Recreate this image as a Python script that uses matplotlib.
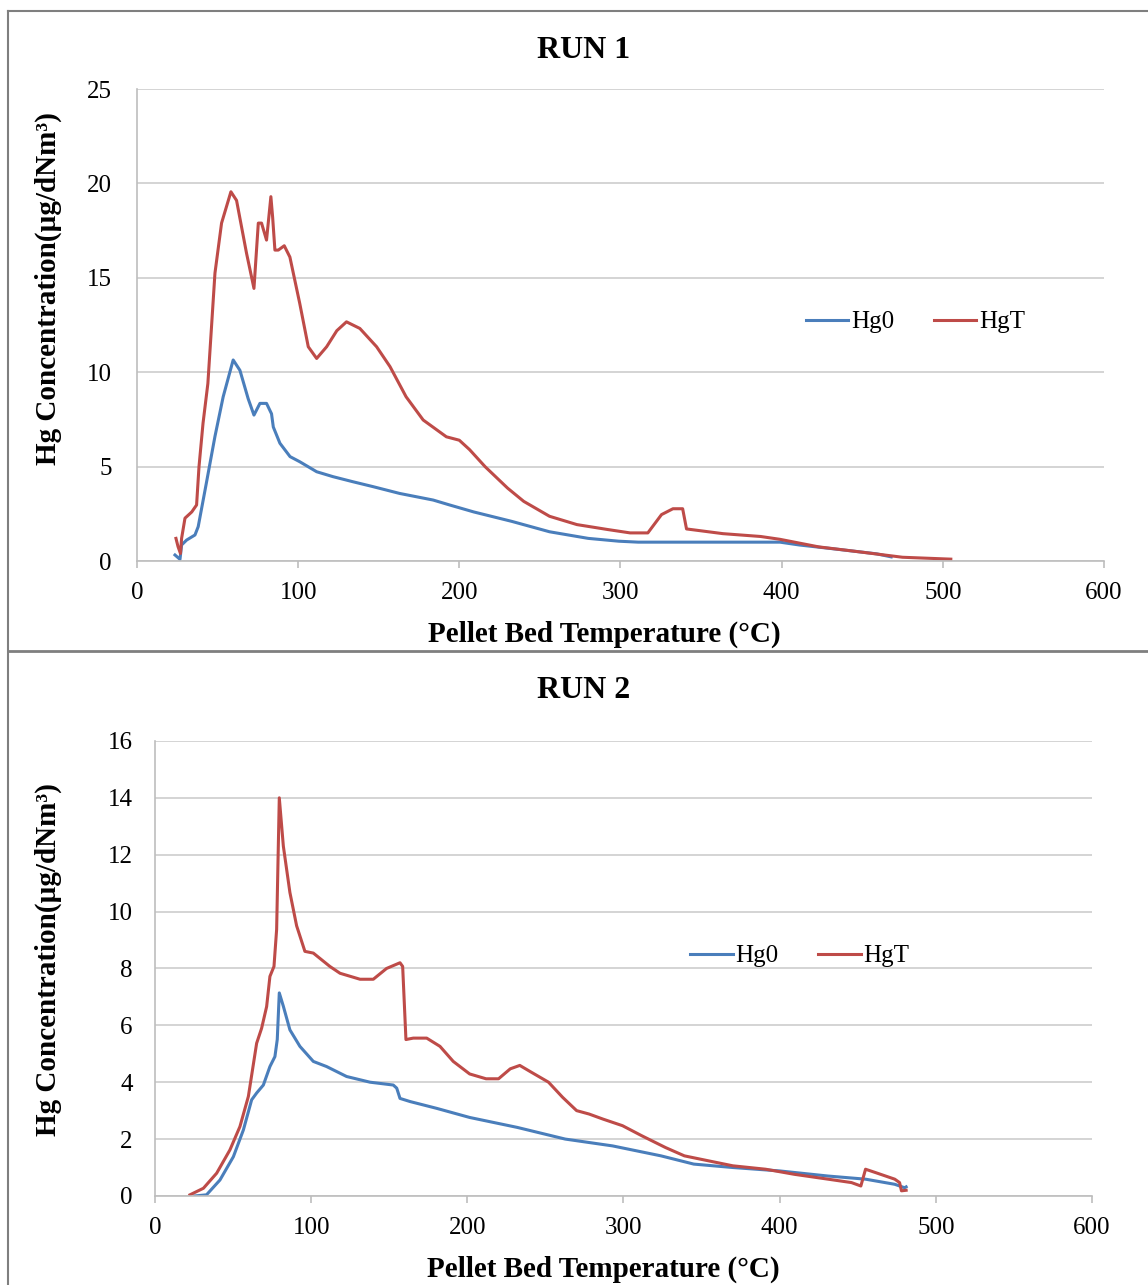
import matplotlib
matplotlib.use("Agg")
import matplotlib.pyplot as plt
from matplotlib.lines import Line2D

plt.rcParams['font.family'] = ['Liberation Serif', 'DejaVu Serif']

# RUN 1 data
run1_hg0_t = [23.6, 26.7, 27.7, 30.8, 36, 38, 43, 48.4, 53.5, 59.7, 63.9, 69, 72.6, 76.3,
              80.4, 83.5, 84.6, 88.7, 95, 101, 111.5, 121.6, 134, 146.5, 163, 183.8, 194,
              209, 232.6, 256, 280, 299, 311, 340, 370, 399, 411, 435, 459, 468]
run1_hg0_c = [0.32, 0.09, 0.85, 1.11, 1.38, 1.82, 4.1, 6.6, 8.7, 10.65, 10.1, 8.6, 7.73, 8.35,
              8.35, 7.8, 7.1, 6.24, 5.53, 5.26, 4.73, 4.47, 4.2, 3.94, 3.58, 3.23, 2.97,
              2.6, 2.1, 1.55, 1.2, 1.05, 1.0, 1.0, 1.0, 1.0, 0.85, 0.62, 0.38, 0.22]

run1_hgt_t = [24.2, 25.5, 27, 27.7, 29.8, 34, 37, 38.5, 41, 44, 48.4, 52.5, 58.3, 61.8, 68,
              72.6, 75.3, 77.3, 80.4, 83.1, 84.2, 85.6, 87.7, 91.4, 94.9, 101, 106.3, 111.5,
              117.7, 124, 130, 138.3, 148.7, 157, 167, 177.6, 192, 200, 206.4, 216, 230, 240, 256,
              273, 292, 306, 317, 325.5, 332.6, 338.6, 341, 363.6, 387, 399, 423, 447, 475, 505]
run1_hgt_c = [1.2, 0.76, 0.4, 1.2, 2.27, 2.6, 2.97, 5.0, 7.3, 9.4, 15.25, 17.9, 19.56, 19.1, 16.3,
              14.44, 17.9, 17.9, 17.0, 19.3, 18.2, 16.47, 16.47, 16.7, 16.1, 13.65, 11.35, 10.73,
              11.35, 12.2, 12.67, 12.32, 11.35, 10.3, 8.7, 7.47, 6.58, 6.4, 5.9, 5.0, 3.86, 3.16, 2.37,
              1.93, 1.67, 1.49, 1.49, 2.46, 2.77, 2.77, 1.7, 1.45, 1.3, 1.15, 0.75, 0.5, 0.2, 0.1]

# RUN 2 data
run2_hg0_t = [25.6, 33, 41.6, 50.2, 56.6, 61.9, 65.1, 69.4, 73.6, 76.8, 78.3, 79.6, 82.2, 86.4,
              92.8, 101.4, 109.9, 122.7, 137.7, 152.6, 154.8, 156.9, 163.3, 180.4, 201.5, 232,
              262.7, 293, 324, 345, 370, 400, 431, 455, 473.7, 480, 481]
run2_hg0_c = [0.0, 0.04, 0.56, 1.38, 2.32, 3.38, 3.62, 3.9, 4.55, 4.9, 5.5, 7.14, 6.67, 5.84,
              5.26, 4.73, 4.55, 4.2, 4.0, 3.9, 3.79, 3.43, 3.32, 3.08, 2.76, 2.41,
              2.0, 1.76, 1.41, 1.12, 1.0, 0.88, 0.7, 0.59, 0.41, 0.29, 0.32]

run2_hgt_t = [22.4, 31, 39.5, 48, 54.4, 59.8, 65.1, 68.3, 71.5, 73.6, 76.2, 77.9, 79.6, 82.2,
              86.4, 90.7, 96, 101.4, 112, 118.5, 131.3, 139.8, 148.3, 156.9, 158.6, 160.7, 165.4,
              174, 182.5, 191, 201.5, 212, 220, 227.5, 233.6, 241, 252, 261, 270, 278, 287,
              299.4, 311.6, 327, 339, 354, 370, 391, 409.5, 431, 446, 452, 455, 461.5, 473.7,
              476.8, 478, 481]
run2_hgt_c = [0.04, 0.27, 0.8, 1.62, 2.44, 3.5, 5.37, 5.9, 6.66, 7.72, 8.07, 9.37, 14.0, 12.3,
              10.67, 9.5, 8.6, 8.54, 8.07, 7.83, 7.62, 7.62, 8.0, 8.2, 8.07, 5.5, 5.55,
              5.55, 5.26, 4.73, 4.29, 4.12, 4.12, 4.47, 4.59, 4.35, 4.0, 3.47, 3.0, 2.88, 2.7,
              2.47, 2.12, 1.7, 1.41, 1.24, 1.06, 0.94, 0.76, 0.59, 0.47, 0.35, 0.94, 0.82, 0.59,
              0.47, 0.18, 0.2]

x_ticks = [0, 100, 200, 300, 400, 500, 600]
run1_yticks = [0, 5, 10, 15, 20, 25]
run2_yticks = [0, 2, 4, 6, 8, 10, 12, 14, 16]

blue = '#4a7ebb'
red = '#be4b48'
grid_col = '#d4d4d4'
ylab = 'Hg Concentration(µg/dNm³)'
xlab = 'Pellet Bed Temperature (°C)'

fig = plt.figure(figsize=(11.48, 12.85), dpi=100)


def setup(ax, yticks, ypad):
    ax.set_xlim(0, 600)
    ax.set_ylim(yticks[0], yticks[-1])
    ax.set_xticks(x_ticks)
    ax.set_yticks(yticks)
    ax.grid(axis='y', color=grid_col, lw=1.4)
    ax.set_axisbelow(True)
    for s in ['top', 'right']:
        ax.spines[s].set_visible(False)
    for s in ['left', 'bottom']:
        ax.spines[s].set_color('#bdbdbd')
        ax.spines[s].set_linewidth(1.2)
    ax.tick_params(axis='x', direction='out', length=5, color='#bdbdbd', width=1.2,
                   labelsize=18, pad=10)
    ax.tick_params(axis='y', length=0, labelsize=18, pad=ypad)


ax1 = fig.add_axes([0.1193, 0.5634, 0.8423, 0.3673])
setup(ax1, run1_yticks, 18)
ax1.plot(run1_hg0_t, run1_hg0_c, color=blue, lw=2.2, label='Hg0')
ax1.plot(run1_hgt_t, run1_hgt_c, color=red, lw=2.2, label='HgT')
ax1.legend(loc='center', bbox_to_anchor=(0.805, 0.506), ncol=2, frameon=False, fontsize=18,
           handlelength=1.7, handletextpad=0.1, columnspacing=1.6)
ax1.set_xlabel(xlab, fontsize=21, fontweight='bold')
ax1.xaxis.set_label_coords(0.483, -0.126)
ax1.set_ylabel(ylab, fontsize=21, fontweight='bold')
ax1.yaxis.set_label_coords(-0.078, 0.578)

ax2 = fig.add_axes([0.135, 0.0693, 0.8162, 0.3541])
setup(ax2, run2_yticks, 16)
ax2.plot(run2_hg0_t, run2_hg0_c, color=blue, lw=2.2, label='Hg0')
ax2.plot(run2_hgt_t, run2_hgt_c, color=red, lw=2.2, label='HgT')
ax2.legend(loc='center', bbox_to_anchor=(0.688, 0.527), ncol=2, frameon=False, fontsize=18,
           handlelength=1.7, handletextpad=0.1, columnspacing=1.6)
ax2.set_xlabel(xlab, fontsize=21, fontweight='bold')
ax2.xaxis.set_label_coords(0.479, -0.132)
ax2.set_ylabel(ylab, fontsize=21, fontweight='bold')
ax2.yaxis.set_label_coords(-0.099, 0.519)

fig.text(0.508, 0.961, 'RUN 1', ha='center', va='center', fontsize=23, fontweight='bold')
fig.text(0.508, 0.463, 'RUN 2', ha='center', va='center', fontsize=23, fontweight='bold')

# panel frames
frame = '#7f7f7f'
fig.add_artist(Line2D([0.007, 0.007], [0.0, 0.9914], color=frame, lw=1.5))
fig.add_artist(Line2D([0.007, 1.0], [0.9914, 0.9914], color=frame, lw=1.5))
fig.add_artist(Line2D([0.007, 1.0], [0.4934, 0.4934], color=frame, lw=2))

fig.savefig('out.png', dpi=100)
